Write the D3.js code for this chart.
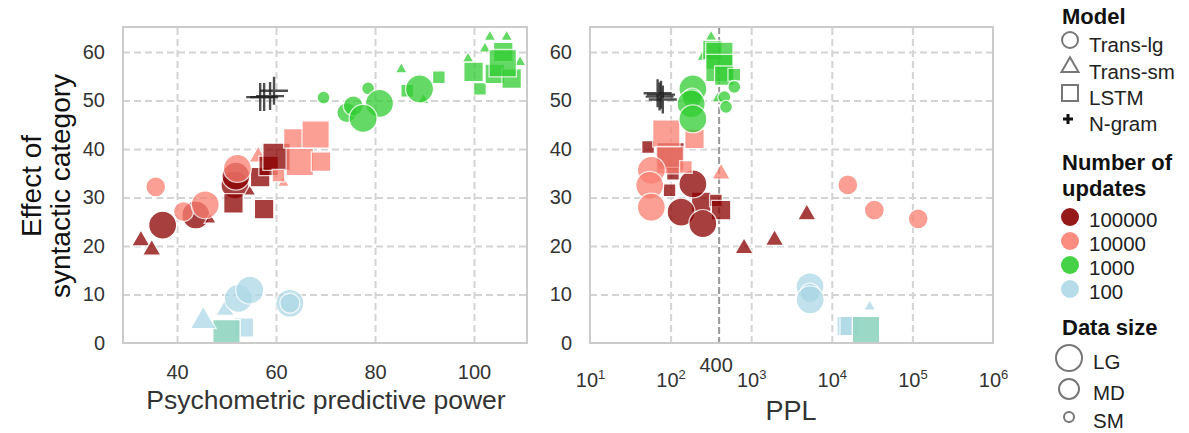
<!DOCTYPE html>
<html>
<head>
<meta charset="utf-8">
<script src="https://cdn.jsdelivr.net/npm/d3@7"></script>
<style>
  body { margin: 0; background: #fff; }
  text { font-family: "Liberation Sans", Arial, sans-serif; }
  .grid line { stroke: #d4d4d4; stroke-width: 2; stroke-dasharray: 7,4; }
  .grid path { display: none; }
  .ticks path { display: none; }
  .ticks text { font-size: 20px; fill: #333; }
</style>
</head>
<body>
<svg id="chart" width="1189" height="433"></svg>
<script>
const models = ["Trans-lg", "Trans-sm", "LSTM", "N-gram"];
const updates = [100000, 10000, 1000, 100];
const updateColors = ["#8b0000", "#fa8072", "#32cd32", "#add8e6"];
const dataSizes = ["LG", "MD", "SM"];
const yTicks = [0, 10, 20, 30, 40, 50, 60];
const pppTicks = [40, 60, 80, 100];
const pplTicks = [1e1, 1e2, 1e3, 1e4, 1e5, 1e6];
const pplMarker = 400;

// [model, updates, data size, x value, effect of syntactic category]
const pppPoints = [
  ["LSTM", 100, "MD", 53.5, 3.2],
  ["LSTM", 1000, "LG", 50.0, 2.0],
  ["LSTM", 100, "LG", 50.0, 2.0],
  ["Trans-sm", 100, "LG", 45.3, 4.5],
  ["Trans-sm", 100, "MD", 49.7, 6.8],
  ["Trans-lg", 100, "LG", 52.4, 9.2],
  ["Trans-lg", 100, "LG", 54.7, 10.9],
  ["Trans-lg", 100, "LG", 62.8, 8.2],
  ["Trans-lg", 100, "MD", 62.8, 8.2],
  ["Trans-sm", 100000, "MD", 32.7, 21.1],
  ["Trans-sm", 100000, "MD", 34.9, 19.2],
  ["Trans-lg", 100000, "LG", 37.1, 24.3],
  ["Trans-lg", 100000, "LG", 43.8, 26.4],
  ["Trans-sm", 100000, "SM", 46.7, 25.4],
  ["Trans-lg", 100000, "LG", 51.7, 32.6],
  ["Trans-lg", 100000, "LG", 51.9, 34.4],
  ["Trans-sm", 100000, "SM", 54.7, 31.2],
  ["Trans-sm", 10000, "MD", 56.4, 38.4],
  ["LSTM", 100000, "MD", 51.4, 28.8],
  ["LSTM", 100000, "MD", 57.6, 27.6],
  ["LSTM", 100000, "MD", 56.8, 34.2],
  ["LSTM", 100000, "MD", 58.5, 36.5],
  ["LSTM", 100000, "LG", 60.1, 38.4],
  ["Trans-lg", 10000, "MD", 35.7, 32.2],
  ["Trans-lg", 10000, "MD", 41.3, 27.1],
  ["Trans-lg", 10000, "LG", 45.7, 28.5],
  ["Trans-lg", 10000, "LG", 52.2, 36.0],
  ["Trans-sm", 10000, "SM", 61.5, 33.0],
  ["LSTM", 10000, "SM", 60.5, 34.5],
  ["LSTM", 10000, "MD", 63.5, 42.2],
  ["LSTM", 10000, "LG", 68.0, 43.0],
  ["LSTM", 10000, "LG", 64.8, 37.3],
  ["LSTM", 10000, "MD", 69.1, 37.4],
  ["Trans-lg", 1000, "SM", 69.6, 50.6],
  ["Trans-lg", 1000, "MD", 74.3, 47.5],
  ["Trans-lg", 1000, "MD", 75.6, 48.9],
  ["Trans-lg", 1000, "SM", 78.6, 52.5],
  ["Trans-lg", 1000, "LG", 80.9, 49.4],
  ["Trans-lg", 1000, "LG", 77.6, 46.3],
  ["Trans-sm", 1000, "SM", 85.3, 56.4],
  ["LSTM", 1000, "SM", 86.5, 52.0],
  ["Trans-sm", 1000, "SM", 89.8, 50.1],
  ["Trans-lg", 1000, "LG", 89.0, 52.4],
  ["LSTM", 1000, "SM", 92.9, 54.8],
  ["Trans-sm", 1000, "SM", 98.8, 58.6],
  ["Trans-sm", 1000, "SM", 102.2, 60.7],
  ["Trans-sm", 1000, "SM", 103.2, 63.1],
  ["Trans-sm", 1000, "SM", 106.6, 63.1],
  ["Trans-sm", 1000, "SM", 109.3, 57.9],
  ["LSTM", 1000, "MD", 99.9, 55.9],
  ["LSTM", 1000, "SM", 101.2, 52.4],
  ["LSTM", 1000, "MD", 104.2, 55.5],
  ["LSTM", 1000, "MD", 107.6, 54.5],
  ["LSTM", 1000, "MD", 105.9, 60.0],
  ["LSTM", 1000, "LG", 105.8, 57.7],
  ["N-gram", null, "LG", 56.8, 50.7],
  ["N-gram", null, "LG", 57.6, 50.7],
  ["N-gram", null, "LG", 58.8, 50.9],
  ["N-gram", null, "LG", 59.6, 52.0]
];

const pplPoints = [
  ["LSTM", 100, "MD", 15300, 3.5],
  ["LSTM", 100, "MD", 16700, 3.5],
  ["LSTM", 1000, "LG", 26600, 2.7],
  ["LSTM", 100, "LG", 26600, 2.7],
  ["Trans-sm", 100, "SM", 29500, 7.5],
  ["Trans-lg", 100, "LG", 5370, 11.6],
  ["Trans-lg", 100, "MD", 5370, 10.3],
  ["Trans-lg", 100, "LG", 5400, 8.9],
  ["LSTM", 100000, "SM", 52.5, 40.4],
  ["LSTM", 100000, "LG", 100, 38.5],
  ["LSTM", 100000, "SM", 107, 34.9],
  ["LSTM", 100000, "SM", 97, 31.5],
  ["LSTM", 100000, "MD", 240, 29.1],
  ["LSTM", 100000, "SM", 365, 29.4],
  ["LSTM", 100000, "MD", 423, 27.4],
  ["Trans-lg", 100000, "LG", 189, 32.8],
  ["Trans-lg", 100000, "LG", 135, 27.0],
  ["Trans-lg", 100000, "LG", 251, 24.6],
  ["Trans-sm", 100000, "MD", 815, 19.5],
  ["Trans-sm", 100000, "MD", 1950, 21.2],
  ["Trans-sm", 100000, "MD", 4900, 26.5],
  ["LSTM", 10000, "LG", 88.5, 43.2],
  ["LSTM", 10000, "MD", 198, 42.1],
  ["LSTM", 10000, "LG", 97.6, 37.7],
  ["LSTM", 10000, "SM", 155, 36.3],
  ["Trans-lg", 10000, "LG", 57.7, 35.6],
  ["Trans-lg", 10000, "LG", 55, 32.5],
  ["Trans-lg", 10000, "LG", 57.7, 28.0],
  ["Trans-sm", 10000, "MD", 423, 34.9],
  ["Trans-lg", 10000, "MD", 15800, 32.6],
  ["Trans-lg", 10000, "MD", 33700, 27.4],
  ["Trans-lg", 10000, "MD", 118000, 25.6],
  ["Trans-sm", 1000, "SM", 318, 63.1],
  ["Trans-sm", 1000, "SM", 250, 59.0],
  ["Trans-sm", 1000, "SM", 383, 50.4],
  ["LSTM", 1000, "MD", 330, 60.4],
  ["LSTM", 1000, "LG", 403, 59.2],
  ["LSTM", 1000, "LG", 403, 56.7],
  ["LSTM", 1000, "MD", 464, 55.1],
  ["LSTM", 1000, "SM", 617, 55.3],
  ["Trans-lg", 1000, "SM", 617, 52.8],
  ["Trans-lg", 1000, "SM", 464, 50.7],
  ["Trans-lg", 1000, "SM", 487, 48.7],
  ["Trans-lg", 1000, "LG", 189, 52.4],
  ["Trans-lg", 1000, "MD", 185, 50.5],
  ["Trans-lg", 1000, "LG", 180, 49.3],
  ["Trans-lg", 1000, "LG", 189, 46.2],
  ["N-gram", null, "LG", 69, 51.5],
  ["N-gram", null, "LG", 73, 50.8],
  ["N-gram", null, "LG", 76, 51.2],
  ["N-gram", null, "LG", 80, 50.2]
];

const svg = d3.select("#chart");
const plotTop = 27, plotBottom = 343;

const color = d3.scaleOrdinal().domain(updates).range(updateColors);
const radius = d3.scaleOrdinal().domain(dataSizes).range([14, 10, 6.5]);

function markerPath(model, size) {
  const r = radius(size);
  if (model === "Trans-lg") return d3.symbol(d3.symbolCircle, Math.PI * r * r)();
  if (model === "LSTM") return d3.symbol(d3.symbolSquare, (1.95 * r) * (1.95 * r))();
  if (model === "Trans-sm") {
    const w = 1.85 * r;
    return d3.symbol(d3.symbolTriangle, Math.sqrt(3) / 4 * w * w)();
  }
  const a = 14;
  return "M" + (-a) + ",0H" + a + "M0," + (-a) + "V" + a;
}

const y = d3.scaleLinear().domain([0, 65.15]).range([plotBottom, plotTop]);

function drawPanel(id, x, left, right, points, xTicks) {
  const g = svg.append("g");

  g.append("defs").append("clipPath").attr("id", id)
    .append("rect").attr("x", left).attr("y", plotTop).attr("width", right - left).attr("height", plotBottom - plotTop);

  g.append("g").attr("class", "grid")
    .attr("transform", "translate(0," + plotBottom + ")")
    .call(d3.axisBottom(x).tickValues(xTicks).tickSize(-(plotBottom - plotTop)).tickFormat(""));
  g.append("g").attr("class", "grid")
    .attr("transform", "translate(" + left + ",0)")
    .call(d3.axisLeft(y).tickValues(yTicks.slice(1)).tickSize(-(right - left)).tickFormat(""));

  const marks = g.append("g").attr("class", "marks").attr("clip-path", "url(#" + id + ")");

  marks.selectAll("path")
    .data(points)
    .enter().append("path")
    .attr("transform", d => "translate(" + x(d[3]) + "," + y(d[4]) + ")")
    .attr("d", d => markerPath(d[0], d[2]))
    .attr("fill", d => d[0] === "N-gram" ? "none" : color(d[1]))
    .attr("stroke", d => d[0] === "N-gram" ? "#222" : "#fff")
    .attr("stroke-width", d => d[0] === "N-gram" ? 2.4 : 1.3)
    .attr("opacity", d => d[0] === "N-gram" ? 0.8 : 0.75);

  g.append("g").attr("class", "ticks")
    .attr("transform", "translate(" + left + ",0)")
    .call(d3.axisLeft(y).tickValues(yTicks).tickSize(0).tickPadding(18));

  g.append("rect").attr("class", "frame")
    .attr("x", left).attr("y", plotTop)
    .attr("width", right - left).attr("height", plotBottom - plotTop)
    .attr("fill", "none").attr("stroke", "#cbcbcb").attr("stroke-width", 2);

  return g;
}

// left panel
const xPPP = d3.scaleLinear().domain([29.09, 110.7]).range([123, 527]);
const leftPanel = drawPanel("clipL", xPPP, 123, 527, pppPoints, pppTicks);
leftPanel.append("g").attr("class", "ticks")
  .attr("transform", "translate(0," + plotBottom + ")")
  .call(d3.axisBottom(xPPP).tickValues(pppTicks).tickSize(0).tickPadding(22));
leftPanel.append("text")
  .attr("x", 326).attr("y", 409)
  .attr("text-anchor", "middle")
  .attr("font-size", 26.5).attr("fill", "#333")
  .text("Psychometric predictive power");

// right panel
const xPPL = d3.scaleLog().domain([10, 1e6]).range([590, 993]);
const rightPanel = drawPanel("clipR", xPPL, 590, 993, pplPoints, pplTicks.slice(1, 5));
rightPanel.insert("line", ".marks")
  .attr("x1", xPPL(pplMarker)).attr("x2", xPPL(pplMarker))
  .attr("y1", plotTop).attr("y2", plotBottom)
  .attr("stroke", "#999").attr("stroke-width", 2).attr("stroke-dasharray", "7,3");

const pplAxis = rightPanel.append("g").attr("class", "ticks")
  .attr("transform", "translate(0," + plotBottom + ")")
  .call(d3.axisBottom(xPPL).tickValues(pplTicks).tickSize(0).tickPadding(30).tickFormat(""));
pplAxis.selectAll(".tick text").each(function (d) {
  const t = d3.select(this);
  t.append("tspan").text("10");
  t.append("tspan").attr("dy", "-0.65em").attr("font-size", 13).text(Math.round(Math.log10(d)));
});
rightPanel.append("text")
  .attr("x", xPPL(pplMarker) - 3).attr("y", 372)
  .attr("text-anchor", "middle")
  .attr("font-size", 20).attr("fill", "#333")
  .text(pplMarker);
rightPanel.append("text")
  .attr("x", 791).attr("y", 420)
  .attr("text-anchor", "middle")
  .attr("font-size", 27).attr("fill", "#333")
  .text("PPL");

// y label
svg.append("text")
  .attr("transform", "translate(41,186) rotate(-90)")
  .attr("text-anchor", "middle").attr("font-size", 28).attr("fill", "#111")
  .text("Effect of");
svg.append("text")
  .attr("transform", "translate(70,186) rotate(-90)")
  .attr("text-anchor", "middle").attr("font-size", 28).attr("fill", "#111")
  .text("syntactic category");

// legend
const legend = svg.append("g");
const lx = 1070, tx = 1089;
const legendGray = "#777";

function title(txt, yy) {
  legend.append("text").attr("x", 1062).attr("y", yy)
    .attr("font-size", 22).attr("font-weight", "bold").attr("fill", "#111").text(txt);
}
function label(txt, xx, yy) {
  legend.append("text").attr("x", xx).attr("y", yy)
    .attr("font-size", 20.5).attr("fill", "#222").text(txt);
}

title("Model", 24);
const modelRows = [40, 67, 93, 119];
const legendModelPath = {
  "Trans-lg": d3.symbol(d3.symbolCircle, Math.PI * 8 * 8)(),
  "Trans-sm": d3.symbol(d3.symbolTriangle, Math.sqrt(3) / 4 * 17 * 17)(),
  "LSTM": d3.symbol(d3.symbolSquare, 16 * 16)(),
  "N-gram": "M-5,0H5M0,-5V5"
};
models.forEach((m, i) => {
  legend.append("path")
    .attr("transform", "translate(" + (m === "N-gram" ? lx - 2 : lx) + "," + modelRows[i] + ")")
    .attr("d", legendModelPath[m])
    .attr("fill", "none")
    .attr("stroke", m === "N-gram" ? "#111" : legendGray)
    .attr("stroke-width", m === "N-gram" ? 3 : 2);
  label(m, tx, modelRows[i] + 12);
});

title("Number of", 170);
title("updates", 196);
const updateRows = [217, 241, 265, 289];
updates.forEach((u, i) => {
  legend.append("circle")
    .attr("cx", lx).attr("cy", updateRows[i]).attr("r", 9)
    .attr("fill", color(u)).attr("opacity", 0.9);
  label(String(u), tx, updateRows[i] + 10);
});

title("Data size", 335);
const sizeRows = [358, 389, 417];
const sizeRadius = [13, 10, 5];
dataSizes.forEach((s, i) => {
  legend.append("circle")
    .attr("cx", lx - 1).attr("cy", sizeRows[i]).attr("r", sizeRadius[i])
    .attr("fill", "none").attr("stroke", legendGray).attr("stroke-width", 2);
  label(s, 1093, sizeRows[i] + 11);
});
</script>
</body>
</html>
